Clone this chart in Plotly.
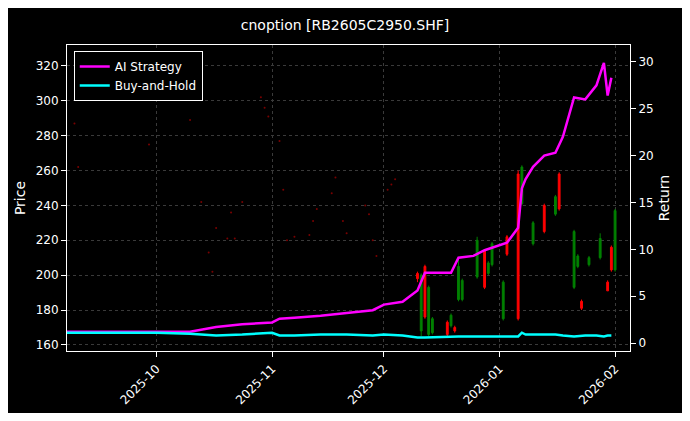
import plotly.graph_objects as go

# --- candles (Dec-Jan) ---
c_dates = ["2025-12-10", "2025-12-11", "2025-12-12", "2025-12-13", "2025-12-14", "2025-12-18",
           "2025-12-19", "2025-12-20", "2025-12-21", "2025-12-22", "2025-12-26", "2025-12-28",
           "2025-12-29", "2025-12-30", "2026-01-02", "2026-01-03", "2026-01-06", "2026-01-07",
           "2026-01-10", "2026-01-13", "2026-01-16", "2026-01-17", "2026-01-21", "2026-01-22",
           "2026-01-23", "2026-01-25", "2026-01-28", "2026-01-30", "2026-01-31", "2026-02-01"]
c_open = [198, 200, 176, 193, 175, 166, 177, 168, 205, 197, 220, 193, 207, 218, 196, 212, 175, 262,
          230, 225, 245, 238, 225, 211, 181, 210, 221, 191, 203, 237]
c_high = [202, 201, 206, 194, 176, 174, 178, 171, 210, 198, 222, 215, 208, 219, 197, 223, 260, 263,
          231, 241, 246, 259, 226, 212, 186, 211, 224, 197, 217, 238]
c_low = [196, 165, 175, 165, 166, 165, 170, 167, 185, 185, 198, 192, 200, 205, 174, 211, 174, 240,
         217, 224, 234, 237, 192, 204, 180, 205, 209, 191, 202, 202]
c_close = [201, 168, 205, 166, 167, 173, 171, 170, 186, 186, 199, 214, 201, 206, 175, 222, 258, 241,
           218, 240, 235, 258, 193, 205, 185, 206, 210, 196, 216, 203]

# --- tiny early quotes ---
dot_dates = ["2025-09-09", "2025-09-10", "2025-09-29", "2025-10-10", "2025-10-13", "2025-10-15",
             "2025-10-16", "2025-10-17", "2025-10-20", "2025-10-21", "2025-10-22", "2025-10-24",
             "2025-10-29", "2025-10-30", "2025-10-31", "2025-11-03", "2025-11-04", "2025-11-05",
             "2025-11-07", "2025-11-11", "2025-11-12", "2025-11-13", "2025-11-17", "2025-11-18",
             "2025-11-20", "2025-11-21", "2025-11-26", "2025-11-27", "2025-11-28", "2025-11-29",
             "2025-12-02", "2025-12-03", "2025-12-04"]
dot_price = [287, 262, 275, 289, 242, 213, 202, 227, 221, 236, 221, 242, 302, 296, 291, 277, 249, 220,
             222, 223, 231, 238, 247, 256, 231, 224, 240, 235, 220, 211, 249, 252, 255]

# --- returns ---
r_dates = ["2025-09-07", "2025-09-20", "2025-10-01", "2025-10-10", "2025-10-17", "2025-10-24",
           "2025-11-01", "2025-11-03", "2025-11-07", "2025-11-14", "2025-11-21", "2025-11-28",
           "2025-12-01", "2025-12-06", "2025-12-10", "2025-12-12", "2025-12-19", "2025-12-21",
           "2025-12-25", "2025-12-28", "2026-01-03", "2026-01-06", "2026-01-07", "2026-01-08",
           "2026-01-10", "2026-01-13", "2026-01-16", "2026-01-18", "2026-01-21", "2026-01-24",
           "2026-01-27", "2026-01-29", "2026-01-30", "2026-01-31"]
ai_ret = [1.2, 1.2, 1.2, 1.2, 1.7, 2.0, 2.2, 2.6, 2.7, 2.9, 3.2, 3.5, 4.1, 4.4, 5.6, 7.5, 7.5, 9.1,
          9.3, 9.9, 10.7, 12.3, 16.5, 17.5, 18.8, 20.0, 20.3, 22.0, 26.2, 26.0, 27.5, 29.9, 26.4, 28.3]
bh_ret = [1.1, 1.1, 1.1, 1.0, 0.8, 0.9, 1.1, 0.8, 0.8, 0.9, 0.9, 0.8, 0.9, 0.8, 0.6, 0.6, 0.7, 0.7,
          0.7, 0.7, 0.7, 0.7, 1.1, 0.9, 0.9, 0.9, 0.9, 0.8, 0.7, 0.8, 0.8, 0.7, 0.8, 0.8]

fig = go.Figure()
fig.add_trace(go.Scatter(x=dot_dates, y=dot_price, mode="markers", showlegend=False,
                         marker=dict(color="#7a0000", size=2)))
fig.add_trace(go.Candlestick(x=c_dates, open=c_open, high=c_high, low=c_low, close=c_close,
                             increasing=dict(line=dict(color="red", width=1), fillcolor="red"),
                             decreasing=dict(line=dict(color="green", width=1), fillcolor="green"),
                             whiskerwidth=0, showlegend=False))
fig.add_trace(go.Scatter(x=r_dates, y=ai_ret, name="AI Strategy", yaxis="y2",
                         line=dict(color="#ff00ff", width=2.5)))
fig.add_trace(go.Scatter(x=r_dates, y=bh_ret, name="Buy-and-Hold", yaxis="y2",
                         line=dict(color="#00ffff", width=2.5)))

grid = dict(showgrid=True, gridcolor="#3a3a3a", griddash="dot", gridwidth=1)
fig.update_layout(
    width=674, height=405,
    paper_bgcolor="black", plot_bgcolor="black",
    font=dict(family="DejaVu Sans", color="white", size=12),
    title=dict(text="cnoption [RB2605C2950.SHF]", x=0.5, xanchor="center", y=0.97,
               yanchor="top", font=dict(size=14)),
    margin=dict(l=59, r=52, t=37, b=62),
    xaxis=dict(range=["2025-09-07", "2026-02-05"], tickangle=-45, tickformat="%Y-%m",
               dtick="M1", rangeslider=dict(visible=False), showline=True, linecolor="white",
               mirror=True, ticks="outside", tickcolor="white", automargin=False, **grid),
    yaxis=dict(title=dict(text="Price", standoff=6), range=[156.5, 332], dtick=20,
               showline=True, linecolor="white", ticks="outside", tickcolor="white",
               zeroline=False, automargin=False, **grid),
    yaxis2=dict(title=dict(text="Return", standoff=6), overlaying="y", side="right",
                range=[-0.85, 31.8], dtick=5, showgrid=False, showline=True, linecolor="white",
                ticks="outside", tickcolor="white", zeroline=False, automargin=False),
    legend=dict(x=0.012, y=0.98, bgcolor="black", bordercolor="white", borderwidth=1,
                font=dict(size=12)),
)
fig.write_html("out.html")
